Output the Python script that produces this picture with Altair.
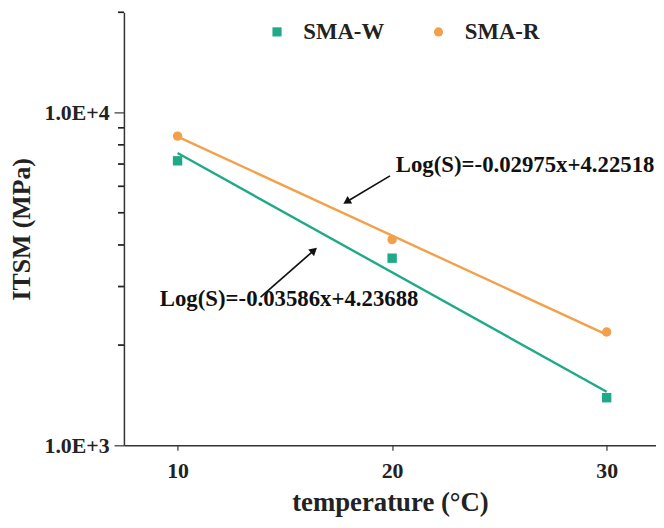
import altair as alt
import pandas as pd

temps = [10, 20, 30]
sma_w = [7160, 3650, 1390]
sma_r = [8490, 4150, 2190]
series = ["SMA-W", "SMA-R"]
colors = ["#1fa987", "#f2a04a"]
slopes = [-0.03586, -0.02975]
intercepts = [4.23688, 4.22518]
eq_labels = ["Log(S)=-0.03586x+4.23688", "Log(S)=-0.02975x+4.22518"]
eq_x = [15.2, 26.2]
eq_y = [2760, 6950]
arrow_x1 = [13.87, 19.9]
arrow_y1 = [2790, 6450]
arrow_x2 = [16.36, 17.88]
arrow_y2 = [3855, 5395]
arrow_angle = [49, 239]
major_ticks = [1000, 10000]
minor_ticks = [2000, 3000, 4000, 5000, 6000, 7000, 8000, 9000, 20000]

FONT = "Liberation Serif"

pts = pd.DataFrame(
    [{"T": t, "S": v, "series": series[0]} for t, v in zip(temps, sma_w)]
    + [{"T": t, "S": v, "series": series[1]} for t, v in zip(temps, sma_r)]
)
fit = pd.DataFrame(
    [{"T": t, "series": s, "col": c, "a": a, "b": b}
     for s, c, a, b in zip(series, colors, slopes, intercepts) for t in (temps[0], temps[-1])]
)
eqs = pd.DataFrame({"x": eq_x, "y": eq_y, "text": eq_labels})
arrows = pd.DataFrame({"x1": arrow_x1, "y1": arrow_y1, "x2": arrow_x2, "y2": arrow_y2, "ang": arrow_angle})
minor = pd.DataFrame({"v": minor_ticks})

xs = alt.Scale(domain=[7.5, 32.3], nice=False, zero=False)
ys = alt.Scale(type="log", domain=[1000, 20000], nice=False)
cs = alt.Scale(domain=series, range=colors)

x_axis = alt.Axis(values=temps, title="temperature (°C)", grid=False, tickSize=5,
                  labelFont=FONT, labelFontSize=22, labelFontWeight="bold", labelColor="#222",
                  titleFont=FONT, titleFontSize=27, titleFontWeight="bold", titleColor="#222",
                  titlePadding=9, labelPadding=10, domainColor="#333", domainWidth=1.5,
                  tickColor="#333", tickWidth=1.2)
y_axis = alt.Axis(values=major_ticks, title="ITSM (MPa)", grid=False,
                  labelExpr="datum.value == 1000 ? '1.0E+3' : '1.0E+4'",
                  tickSize=10, labelOverlap=False,
                  labelFont=FONT, labelFontSize=22, labelFontWeight="bold", labelColor="#222",
                  titleFont=FONT, titleFontSize=26, titleFontWeight="bold", titleColor="#222",
                  titlePadding=10, labelPadding=5, domainColor="#333", domainWidth=1.5,
                  tickColor="#333", tickWidth=1.2)

legend = alt.Legend(
    orient="none", legendX=143, legendY=8, direction="horizontal", title=None,
    labelFont=FONT, labelFontSize=23, labelFontWeight="bold", labelColor="#222",
    symbolSize=85, columnPadding=43, labelOffset=15)

lines = alt.Chart(fit).transform_calculate(
    Sfit="pow(10, datum.a * datum.T + datum.b)"
).mark_line(strokeWidth=2.4).encode(
    x=alt.X("T:Q", scale=xs, axis=x_axis),
    y=alt.Y("Sfit:Q", scale=ys, axis=y_axis),
    stroke=alt.Stroke("col:N", scale=None),
    detail="series:N",
)

minor_rules = alt.Chart(minor).mark_rule(color="#222", strokeWidth=1.5).encode(
    y=alt.Y("v:Q", scale=ys), x=alt.value(-6), x2=alt.value(0)
)
minor_ticks_mark = alt.Chart(minor).mark_tick(color="#222", thickness=1.5, size=6, orient="horizontal").encode(
    y=alt.Y("v:Q", scale=ys), x=alt.value(-3)
)

points = alt.Chart(pts).mark_point(filled=True, size=90, opacity=1).encode(
    x=alt.X("T:Q", scale=xs),
    y=alt.Y("S:Q", scale=ys),
    color=alt.Color("series:N", scale=cs, legend=legend),
    shape=alt.Shape("series:N", scale=alt.Scale(domain=series, range=["square", "circle"]), legend=legend),
)

eq_text = alt.Chart(eqs).mark_text(font=FONT, fontSize=23, fontWeight="bold", color="#111").encode(
    x=alt.X("x:Q", scale=xs), y=alt.Y("y:Q", scale=ys), text="text:N"
)

arrow_lines = alt.Chart(arrows).mark_rule(color="#111", strokeWidth=1.7).encode(
    x=alt.X("x1:Q", scale=xs), y=alt.Y("y1:Q", scale=ys), x2="x2:Q", y2="y2:Q"
)
arrow_heads = alt.Chart(arrows).mark_point(shape="triangle-up", filled=True, size=80, color="#111", opacity=1).encode(
    x=alt.X("x2:Q", scale=xs), y=alt.Y("y2:Q", scale=ys), angle=alt.Angle("ang:Q", scale=None)
)

chart = alt.layer(lines, minor_rules, minor_ticks_mark, points, arrow_lines, arrow_heads, eq_text).properties(
    width=537, height=437,
    autosize=alt.AutoSizeParams(type="none"),
    padding={"left": 117, "top": 2, "right": 0, "bottom": 73},
).configure_view(stroke=None)

chart.save("out.html", embed_options={"renderer": "svg", "actions": False})
